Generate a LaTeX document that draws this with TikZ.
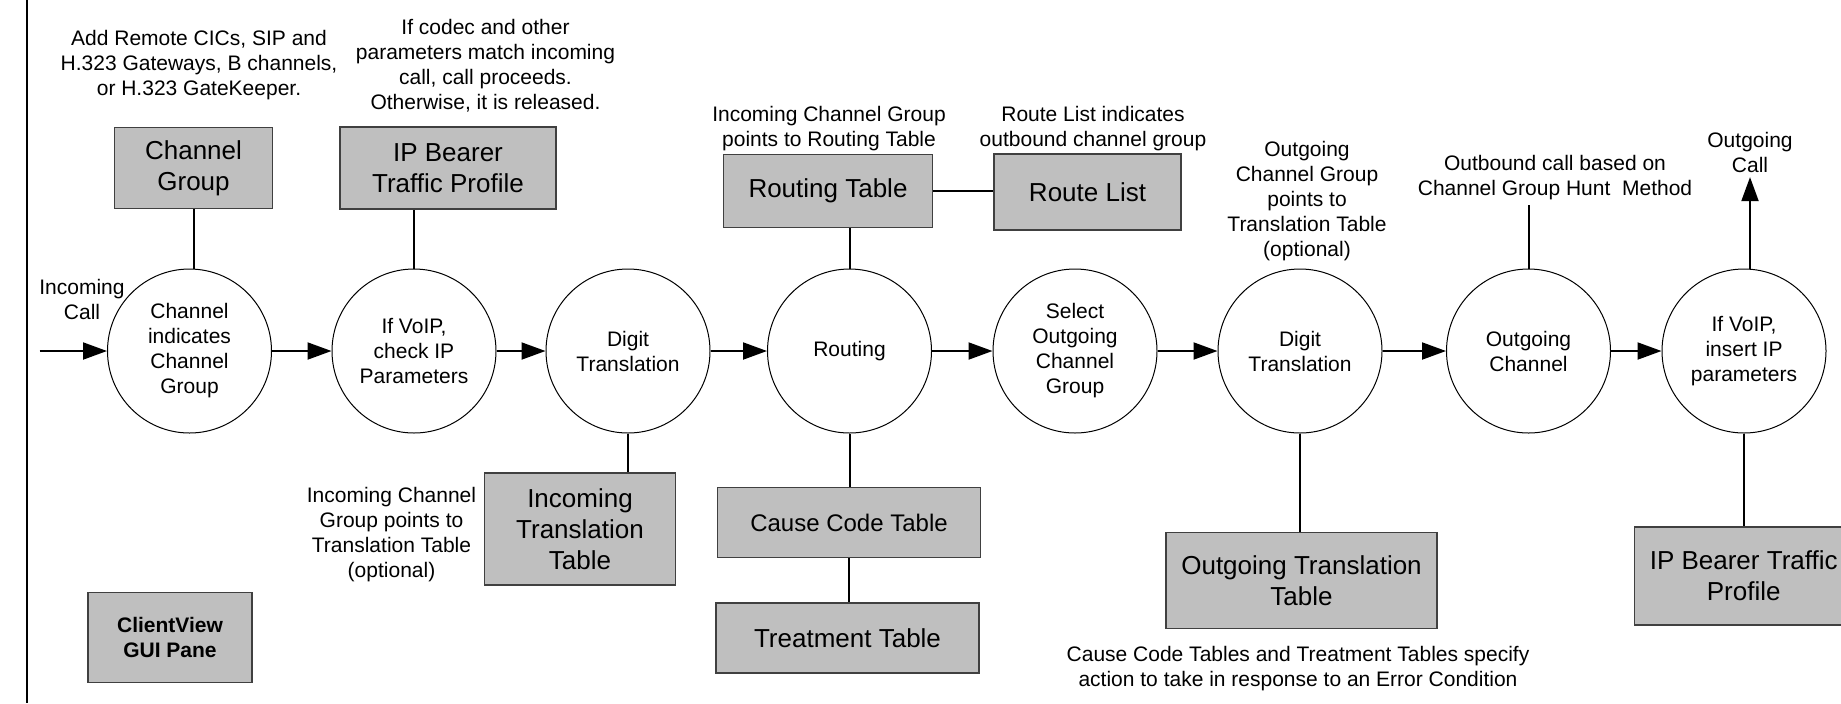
\documentclass[tikz,border=0pt]{standalone}
\usepackage{fontspec}
\setmainfont{Liberation Sans}
\usepackage{tikz}
\usetikzlibrary{arrows.meta, positioning}
\newcommand{\smalltxt}{\fontsize{10.5}{12.5}\selectfont}
\newcommand{\bigtxt}{\fontsize{13}{15.5}\selectfont}

\begin{document}
\begin{tikzpicture}[x=0.5pt, y=-0.5pt,
    stage/.style={circle, draw, line width=0.5pt, minimum size=82pt, inner sep=0pt, align=center, font=\smalltxt},
    gbox/.style={draw=black!75, fill=black!25, line width=0.75pt, inner sep=0pt, align=center, font=\bigtxt},
    remark/.style={align=center, inner sep=2pt, font=\smalltxt},
    flow/.style={line width=1pt, -{Triangle[length=12pt,width=8.5pt]}},
    link/.style={line width=1pt}]
                        \useasboundingbox (0, 0) rectangle (1841, 703);
                        \draw[line width=1pt] (26.7, 0) -- (26.7, 703);

                        \node[stage] (c1) at (189.5, 351) {Channel\\indicates\\Channel\\Group};
                        \node[stage] (c2) at (414, 351) {If VoIP,\\check IP\\Parameters};
                        \node[stage] (c3) at (628, 351) {Digit\\Translation};
                        \node[stage] (c4) at (849.5, 351) {Routing};
                        \node[stage] (c5) at (1075, 351) {Select\\Outgoing\\Channel\\Group};
                        \node[stage] (c6) at (1300, 351) {Digit\\Translation};
                        \node[stage] (c7) at (1528.5, 351) {Outgoing\\Channel};
                        \node[stage] (c8) at (1744, 351) {If VoIP,\\insert IP\\parameters};

                        \node[gbox, minimum width=79pt, minimum height=40.5pt] (chgrp) at (193.5, 168) {Channel\\Group};
                        \node[gbox, minimum width=108pt, minimum height=41pt] (ipbin) at (448, 168) {IP Bearer\\Traffic Profile};
                        \node[gbox, minimum width=104.5pt, minimum height=36.5pt] (rtab) at (828, 191) {Routing Table};
                        \node[gbox, minimum width=93.5pt, minimum height=38pt] (rlist) at (1087.5, 192) {Route List};
                        \node[gbox, minimum width=95.5pt, minimum height=56pt] (intrans) at (580, 529) {Incoming\\Translation\\Table};
                        \node[gbox, minimum width=131.5pt, minimum height=35pt, font=\fontsize{12}{14}\selectfont] (cause) at (849, 522.5) {Cause Code Table};
                        \node[gbox, minimum width=131.5pt, minimum height=35pt] (treat) at (847.5, 638) {Treatment Table};
                        \node[gbox, minimum width=135.5pt, minimum height=48pt] (outtrans) at (1301.5, 580.7) {Outgoing Translation\\Table};
                        \node[gbox, minimum width=109pt, minimum height=49pt] (ipbout) at (1743.7, 576) {IP Bearer Traffic\\Profile};
                        \node[gbox, minimum width=82pt, minimum height=45pt, font=\smalltxt\bfseries] (gui) at (170, 637.5) {ClientView\\GUI Pane};

                        \node[remark] (incall) at (82, 299.5) {Incoming\\Call};
                        \node[remark] (outcall) at (1750, 152.5) {Outgoing\\Call};
                        \node[remark] at (199, 65) {Add Remote CICs, SIP and\\H.323 Gateways, B channels,\\or H.323 GateKeeper.};
                        \node[remark] at (485.5, 65.5) {If codec and other\\parameters match incoming\\call, call proceeds.\\Otherwise, it is released.};
                        \node[remark] at (829, 129) {Incoming Channel Group\\points to Routing Table};
                        \node[remark] at (1093, 129) {Route List indicates\\outbound channel group};
                        \node[remark] at (1307, 201) {Outgoing\\Channel Group\\points to\\Translation Table\\(optional)};
                        \node[remark] (hunt) at (1555, 178) {Outbound call based on\\Channel Group Hunt\ \ Method};
                        \node[remark] at (391.5, 535) {Incoming Channel\\Group points to\\Translation Table\\(optional)};
                        \node[remark] at (1298, 668.5) {Cause Code Tables and Treatment Tables specify\\action to take in response to an Error Condition};

                        \coordinate (in) at (39.5, 351);
                        \draw[flow] (in) -- (c1);
                        \draw[flow] (c1) -- (c2);
                        \draw[flow] (c2) -- (c3);
                        \draw[flow] (c3) -- (c4);
                        \draw[flow] (c4) -- (c5);
                        \draw[flow] (c5) -- (c6);
                        \draw[flow] (c6) -- (c7);
                        \draw[flow] (c7) -- (c8);
                        \draw[flow] (outcall.south |- c8.north) -- (outcall.south);

                        \draw[link]
                        (chgrp.south) -- (chgrp.south |- c1.north)
                        (c2.north) -- (c2.north |- ipbin.south)
                        (c3.south) -- (c3.south |- intrans.north)
                        (c4.north) -- (c4.north |- rtab.south)
                        (rtab.east) -- (rtab.east -| rlist.west)
                        (c4.south) -- (c4.south |- cause.north)
                        (cause.south) -- (cause.south |- treat.north)
                        (c6.south) -- (c6.south |- outtrans.north)
                        (c7.north) -- (c7.north |- hunt.south)
                        (c8.south) -- (c8.south |- ipbout.north);
                    \end{tikzpicture}
\end{document}
